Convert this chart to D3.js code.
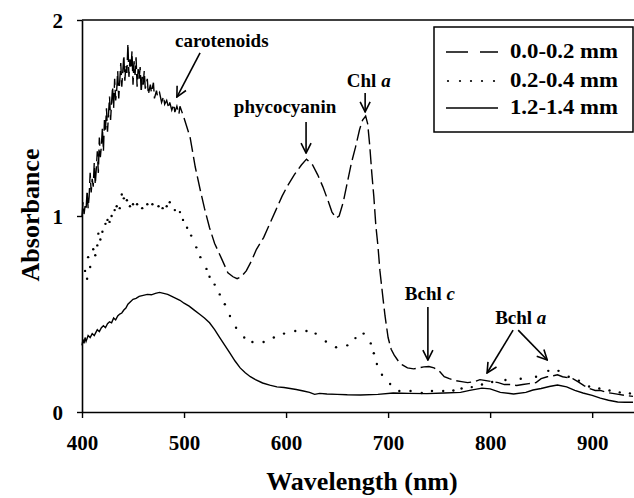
<!DOCTYPE html>
<html><head><meta charset="utf-8">
<script src="https://cdn.jsdelivr.net/npm/d3@7/dist/d3.min.js"></script>
<style>
html,body{margin:0;padding:0;background:#fff;}
</style></head>
<body>
<svg id="chart" width="634" height="498"></svg>
<script>
// ---------- data ----------
const xTicks = [400, 500, 600, 700, 800, 900];
const yTicks = [0, 1, 2];
const seriesNames = ["0.0-0.2 mm", "0.2-0.4 mm", "1.2-1.4 mm"];

// 0.0-0.2 mm (dashed)
const surface = [
[400,1.00],[401,1.07],[402,1.01],[403,1.05],[404,1.03],[405,1.13],[406,1.04],[407,1.10],[408,1.22],[409,1.12],[410,1.19],[411,1.15],[412,1.27],[413,1.16],[414,1.24],[415,1.33],[416,1.22],[417,1.40],[418,1.30],[419,1.36],[420,1.45],[421,1.33],[422,1.49],[423,1.44],[424,1.55],[425,1.43],[426,1.52],[427,1.61],[428,1.49],[429,1.58],[430,1.66],[431,1.55],[432,1.70],[433,1.59],[434,1.64],[435,1.74],[436,1.60],[437,1.69],[438,1.78],[439,1.66],[440,1.74],[441,1.82],[442,1.69],[443,1.77],[444,1.73],[445,1.88],[446,1.71],[447,1.80],[448,1.75],[449,1.84],[450,1.67],[451,1.79],[452,1.72],[453,1.81],[454,1.66],[455,1.75],[456,1.70],[457,1.76],[458,1.63],[459,1.71],[460,1.67],[461,1.74],[462,1.65],[464,1.70],[465,1.62],[467,1.67],[468,1.63],[470,1.68],[471,1.60],[473,1.64],[474,1.61],[476,1.63],[478,1.58],[480,1.61],[481,1.57],[483,1.59],[485,1.55],[486,1.58],[488,1.54],[490,1.57],[491,1.53],[493,1.56],[495,1.52],[496,1.56],[498,1.53],
[500,1.50],[506,1.40],[511,1.25],[516,1.13],[520,1.04],[525,0.94],[530,0.86],[537,0.78],[543,0.71],[548,0.69],[552,0.68],[556,0.69],[561,0.72],[566,0.77],[571,0.83],[578,0.89],[584,0.96],[590,1.03],[596,1.10],[601,1.15],[608,1.21],[615,1.26],[620,1.29],[626,1.26],[631,1.21],[636,1.15],[641,1.08],[645,1.02],[649,0.99],[652,1.00],[656,1.07],[660,1.17],[664,1.27],[668,1.35],[672,1.44],[675,1.49],[678,1.51],[680,1.47],[682,1.36],[684,1.22],[686,1.10],[688,0.95],[690,0.85],[692,0.72],[695,0.58],[697,0.49],[700,0.38],[703,0.32],[706,0.29],[710,0.26],[714,0.24],[719,0.225],[725,0.22],[730,0.225],[735,0.23],[740,0.232],[745,0.225],[750,0.21],[755,0.18],[760,0.17],[766,0.16],[772,0.155],[778,0.15],[785,0.155],[790,0.165],[796,0.16],[802,0.155],[808,0.15],[814,0.14],[820,0.14],[826,0.135],[832,0.14],[838,0.145],[845,0.15],[850,0.17],[856,0.18],[862,0.185],[866,0.19],[871,0.18],[876,0.175],[881,0.17],[886,0.155],[892,0.135],[897,0.12],[903,0.11],[908,0.11],[914,0.10],[920,0.095],[926,0.09],[932,0.085],[940,0.08]
];

// 0.2-0.4 mm (dotted)
const middle = [
[403,0.72],[405,0.68],[406,0.79],[408,0.74],[411,0.83],[413,0.80],[415,0.85],[416,0.91],[418,0.88],[420,0.92],[423,0.96],[425,0.98],[427,0.97],[429,1.00],[432,1.03],[434,1.05],[437,1.04],[439,1.11],[441,1.09],[444,1.08],[447,1.05],[450,1.06],[454,1.06],[459,1.04],[464,1.06],[469,1.06],[475,1.05],[479,1.04],[483,1.05],[486,1.07],[491,1.03],[496,1.02],[499,0.98],[503,0.94],[507,0.90],[512,0.84],[516,0.79],[522,0.73],[525,0.69],[530,0.65],[535,0.60],[540,0.55],[545,0.49],[551,0.43],[559,0.38],[567,0.357],[578,0.357],[588,0.38],[598,0.40],[609,0.413],[620,0.413],[629,0.40],[639,0.36],[649,0.33],[660,0.34],[668,0.377],[676,0.40],[683,0.35],[686,0.30],[689,0.245],[694,0.19],[702,0.143],[711,0.107],[722,0.107],[733,0.097],[743,0.107],[754,0.107],[764,0.11],[772,0.12],[782,0.127],[792,0.14],[802,0.153],[815,0.163],[830,0.17],[845,0.18],[857,0.21],[867,0.21],[877,0.18],[887,0.16],[897,0.13],[907,0.12],[917,0.11],[927,0.10],[937,0.095]
];

// 1.2-1.4 mm (solid)
const deep = [
[400,0.34],[401,0.37],[402,0.35],[403,0.38],[404,0.36],[406,0.39],[408,0.38],[410,0.40],[412,0.39],[414,0.41],[415,0.42],[417,0.41],[419,0.43],[421,0.44],[423,0.43],[425,0.45],[427,0.46],[429,0.455],[431,0.48],[433,0.47],[435,0.49],[437,0.50],[439,0.505],[441,0.52],[443,0.53],[445,0.55],[447,0.56],[450,0.575],[453,0.58],[456,0.59],[460,0.595],[464,0.60],[468,0.598],[472,0.605],[476,0.61],[480,0.605],[484,0.60],[488,0.59],[492,0.58],[496,0.57],[500,0.555],[505,0.54],[510,0.52],[515,0.50],[520,0.48],[525,0.455],[530,0.42],[535,0.38],[540,0.34],[545,0.30],[550,0.26],[555,0.225],[560,0.20],[565,0.18],[570,0.165],[577,0.148],[584,0.137],[591,0.128],[598,0.125],[604,0.12],[610,0.115],[617,0.107],[623,0.10],[628,0.09],[633,0.095],[640,0.092],[650,0.09],[660,0.088],[673,0.087],[690,0.09],[705,0.097],[720,0.095],[738,0.094],[755,0.097],[771,0.10],[780,0.11],[792,0.122],[800,0.118],[810,0.10],[823,0.092],[835,0.10],[842,0.112],[850,0.12],[858,0.13],[866,0.138],[875,0.128],[883,0.11],[891,0.097],[900,0.085],[908,0.071],[916,0.06],[925,0.051],[932,0.05],[940,0.05]
];

// annotation labels (in data units: nm, absorbance)
const labels = [
  {main:"carotenoids", ital:"", x:537, y:1.862},
  {main:"phycocyanin", ital:"", x:599, y:1.526},
  {main:"Chl ", ital:"a", x:681, y:1.658},
  {main:"Bchl ", ital:"c", x:741, y:0.571},
  {main:"Bchl ", ital:"a", x:830, y:0.449}
];
const arrows = [
  {x1:515.7, y1:1.832, x2:493, y2:1.607},
  {x1:619.6, y1:1.48, x2:619.6, y2:1.321},
  {x1:677.5, y1:1.628, x2:677.5, y2:1.531},
  {x1:739, y1:0.536, x2:739, y2:0.265},
  {x1:822.5, y1:0.418, x2:797, y2:0.199},
  {x1:827.5, y1:0.418, x2:856, y2:0.265}
];

// ---------- chart ----------
const FONT = "'Liberation Serif', 'Times New Roman', 'DejaVu Serif', serif";
const svg = d3.select("#chart");
const x = d3.scaleLinear().domain([400, 941]).range([82, 634]);
const y = d3.scaleLinear().domain([0, 2]).range([412, 20]);

svg.append("defs").append("marker")
  .attr("id","vhead").attr("viewBox","0 0 12 12").attr("refX",11).attr("refY",6)
  .attr("markerWidth",12).attr("markerHeight",12).attr("markerUnits","userSpaceOnUse")
  .attr("orient","auto")
  .append("path").attr("d","M1,1 L11,6 L1,11").attr("fill","none").attr("stroke","#000").attr("stroke-width",1.6);

// top frame line
svg.append("line").attr("x1",x(400)).attr("x2",x(941)).attr("y1",y(2)).attr("y2",y(2))
  .attr("stroke","#000").attr("stroke-width",1.5);

// x axis
const gx = svg.append("g").attr("transform",`translate(0,${y(0)})`)
  .call(d3.axisBottom(x).tickValues(xTicks).tickSize(6).tickSizeOuter(0));
gx.attr("font-family",FONT).attr("font-weight","bold");
gx.select(".domain").attr("stroke-width",1.6);
gx.selectAll(".tick line").attr("stroke-width",1.4);
gx.selectAll(".tick text").attr("y",38).attr("dy",null).attr("font-size",21);

// y axis
const gy = svg.append("g").attr("transform",`translate(${x(400)},0)`)
  .call(d3.axisLeft(y).tickValues(yTicks).tickFormat(d3.format("d")).tickSize(5).tickSizeOuter(0));
gy.attr("font-family",FONT).attr("font-weight","bold");
gy.select(".domain").attr("stroke-width",1.6);
gy.selectAll(".tick line").attr("stroke-width",1.4);
gy.selectAll(".tick text").attr("x",-19).attr("dy","0.36em").attr("font-size",21);

// axis titles
svg.append("text").attr("x",362).attr("y",490).attr("text-anchor","middle")
  .attr("font-family",FONT).attr("font-weight","bold").attr("font-size",26).text("Wavelength (nm)");
svg.append("text").attr("transform","translate(39,215) rotate(-90)").attr("text-anchor","middle")
  .attr("font-family",FONT).attr("font-weight","bold").attr("font-size",26).text("Absorbance");

const line = d3.line().x(d=>x(d[0])).y(d=>y(d[1]));

svg.append("path").datum(surface).attr("d",line).attr("fill","none")
  .attr("stroke","#000").attr("stroke-width",1.4).attr("stroke-dasharray","15,5");
svg.append("g").selectAll("circle").data(middle).join("circle")
  .attr("cx",d=>x(d[0])).attr("cy",d=>y(d[1])).attr("r",1.2).attr("fill","#000");
svg.append("path").datum(deep).attr("d",line).attr("fill","none")
  .attr("stroke","#000").attr("stroke-width",1.4);

// annotations
svg.append("g").selectAll("line").data(arrows).join("line")
  .attr("x1",d=>x(d.x1)).attr("y1",d=>y(d.y1)).attr("x2",d=>x(d.x2)).attr("y2",d=>y(d.y2))
  .attr("stroke","#000").attr("stroke-width",1.6).attr("marker-end","url(#vhead)");
const lt = svg.append("g").attr("font-family",FONT).attr("font-weight","bold")
  .selectAll("text").data(labels).join("text")
  .attr("x",d=>x(d.x)).attr("y",d=>y(d.y)).attr("text-anchor","middle").attr("font-size",19);
lt.append("tspan").text(d=>d.main);
lt.append("tspan").attr("font-style","italic").text(d=>d.ital);

// legend
const lg = svg.append("g").attr("font-family",FONT).attr("font-weight","bold");
lg.append("rect").attr("x",434).attr("y",27).attr("width",199).attr("height",105)
  .attr("fill","#fff").attr("stroke","#000").attr("stroke-width",1.5);
const rowY = [52, 81, 108];
lg.append("line").attr("x1",446).attr("x2",498).attr("y1",rowY[0]).attr("y2",rowY[0])
  .attr("stroke","#000").attr("stroke-width",1.4).attr("stroke-dasharray","22,12");
lg.append("g").selectAll("circle").data([448,460,471,482,494]).join("circle")
  .attr("cx",d=>d).attr("cy",rowY[1]).attr("r",1.1).attr("fill","#000");
lg.append("line").attr("x1",446).attr("x2",498).attr("y1",rowY[2]).attr("y2",rowY[2])
  .attr("stroke","#000").attr("stroke-width",1.4);
lg.selectAll("text.lab").data(seriesNames).join("text").attr("class","lab")
  .attr("x",510).attr("y",(d,i)=>rowY[i]+6).attr("font-size",21)
  .attr("textLength",108).attr("lengthAdjust","spacingAndGlyphs").text(d=>d);
</script>
</body></html>
